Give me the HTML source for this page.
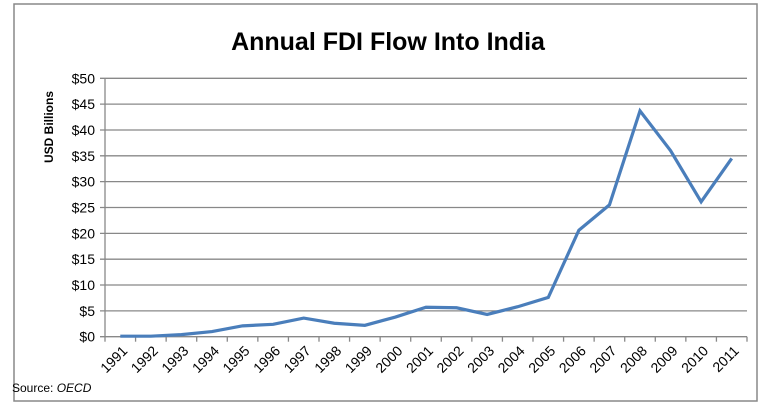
<!DOCTYPE html>
<html><head><meta charset="utf-8"><style>
body{margin:0;background:#fff;}
svg text{font-family:"Liberation Sans",sans-serif;fill:#000;}
</style></head><body>
<svg id="chart" width="770" height="404" xmlns="http://www.w3.org/2000/svg">
<rect x="14" y="4" width="743" height="397" fill="#fff" stroke="#888" stroke-width="1.5"/>
<text x="388" y="50" font-size="25" font-weight="bold" text-anchor="middle">Annual FDI Flow Into India</text>
<text transform="translate(53,127) rotate(-90)" font-size="12" font-weight="bold" text-anchor="middle">USD Billions</text>
<text x="12" y="392" font-size="12">Source: <tspan font-style="italic">OECD</tspan></text>
<g id="grid"></g><g id="axes"></g><g id="series"></g>
</svg>
<script>
const years=["1991","1992","1993","1994","1995","1996","1997","1998","1999","2000","2001","2002","2003","2004","2005","2006","2007","2008","2009","2010","2011"];
const fdi=[0.1,0.1,0.4,1.0,2.1,2.4,3.6,2.6,2.2,3.8,5.7,5.6,4.3,5.8,7.6,20.6,25.5,43.7,36.0,26.1,34.5];
const yTicks=[0,5,10,15,20,25,30,35,40,45,50];
const ns="http://www.w3.org/2000/svg";
const L=105,R=747,T=78.3,B=336.7,yMax=50;
const step=(R-L)/years.length;
const xs=i=>L+step*(i+0.5);
const ys=v=>B-(v/yMax)*(B-T);
function mk(t,a,p){const e=document.createElementNS(ns,t);for(const k in a)e.setAttribute(k,a[k]);p.appendChild(e);return e;}
const grid=document.getElementById('grid'),axes=document.getElementById('axes'),ser=document.getElementById('series');
yTicks.forEach(v=>{
  const g=mk('line',{x1:L-5,x2:R,y1:ys(v),y2:ys(v),stroke:'#888','stroke-width':1.3},grid);
  
  
  const t=mk('text',{x:L-10,y:ys(v)+5,'font-size':14,'text-anchor':'end'},axes);
  t.textContent='$'+v;
  
  
});
const ax=mk('line',{x1:L,x2:L,y1:T,y2:B,stroke:'#888','stroke-width':1.3},axes);


for(let i=0;i<=years.length;i++){
  const tk=mk('line',{x1:L+step*i,x2:L+step*i,y1:B,y2:B+5,stroke:'#888','stroke-width':1.3},axes);
  
  
}
years.forEach((y,i)=>{
  const x=xs(i)+8,yy=B+15;
  const t=mk('text',{x:x,y:yy,'font-size':14,'text-anchor':'end',transform:`rotate(-45 ${x} ${yy})`},axes);
  t.textContent=y;
  
  
});
const pts=fdi.map((v,i)=>xs(i)+','+ys(v)).join(' ');
const pl=mk('polyline',{points:pts,fill:'none',stroke:'#4a7ebb','stroke-width':3.2,'stroke-linejoin':'miter'},ser);


</script>
</body></html>
